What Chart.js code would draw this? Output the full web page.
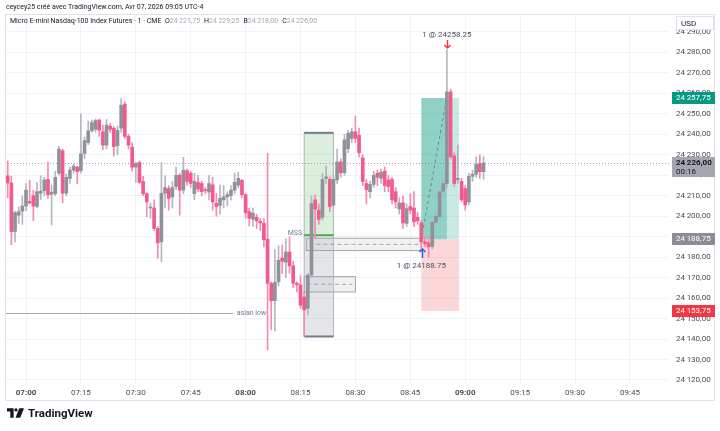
<!DOCTYPE html>
<html>
<head>
<meta charset="utf-8">
<script src="https://cdn.jsdelivr.net/npm/chart.js@4.4.1/dist/chart.umd.min.js"></script>
<style>
  body { margin: 0; background: #fff; font-family: Roboto, "Liberation Sans", sans-serif; }
  #wrap { position: relative; width: 720px; height: 431px; overflow: hidden; }
  #chart { position: absolute; left: 0; top: 0; }
  .txt { position: absolute; white-space: nowrap; color: #131722; }
  #h1 { left: 6px; top: 3px; font-size: 7px; }
  #h2 { left: 10px; top: 17px; font-size: 7px; }
  #h2 .v { color: #a3a6af; margin-right: 4px; }
  #logo { left: 7px; top: 406px; font-size: 11.5px; font-weight: bold; display: flex; align-items: center; }
  #logo svg { margin-right: 4px; }
</style>
</head>
<body>
<div id="wrap">
  <canvas id="chart" width="720" height="431"></canvas>
  <div class="txt" id="h1">ceycey25 créé avec TradingView.com, Avr 07, 2026 09:05 UTC-4</div>
  <div class="txt" id="h2"></div>
  <div class="txt" id="logo">
    <svg width="17" height="10" viewBox="0 0 36 20"><path d="M0 0h14v20H7V7H0z" fill="#131722"/><circle cx="19" cy="3.5" r="3.5" fill="#131722"/><path d="M26 0h10l-8 20H18z" fill="#131722"/></svg>TradingView
  </div>
</div>
<script>
// 1-minute bars, first bar 06:55 (minutes counted from 07:00)
const firstBarMin = -5;
const opens = [24219.75,24216.25,24192.5,24200.5,24202.5,24205,24207.25,24210,24204.75,24211.25,
  24212.5,24218,24210.75,24211,24221,24232,24211.25,24218.5,24222.5,24224,
  24222.25,24230.75,24236,24241.75,24242.5,24247,24241.25,24234.75,24244,24243,
  24234.5,24243,24254.75,24239,24233.75,24224,24226.25,24217,24211,24204,
  24204,24194,24187.5,24211.25,24213.5,24209.5,24214.5,24220,24212.75,24222.25,
  24221,24211,24216.5,24216,24213,24211.75,24215.25,24206.25,24205.25,24208,
  24209.5,24210,24212.75,24215.25,24217.5,24210.5,24202.25,24198.5,24199.5,24197.5,
  24196.5,24188.75,24167.25,24158.75,24168,24179.5,24177.5,24182.5,24175.75,24167.25,
  24166.5,24160.5,24155,24171.25,24208,24203,24199.5,24218.5,24218,24205.5,
  24217.75,24226.5,24221.25,24233,24238,24241.25,24239.5,24228.5,24216,24212,
  24215.5,24221,24218.5,24222,24217.75,24218,24212,24203.5,24206.5,24196.5,
  24204.75,24204,24199.5,24196.75,24187.5,24187,24185.25,24197,24199.75,24212.25,
  24216,24260.75,24229.5,24217.75,24217,24213.5,24207,24219.5,24220.5,24225.75,
  24221.75];
const highs = [24227,24219.5,24202.5,24204.5,24210,24216,24217.5,24212.75,24216.5,24219.75,
  24219,24226.5,24215.25,24222,24234.25,24232.75,24220.75,24224,24225.5,24224.5,
  24250,24238.75,24246.5,24247,24247.5,24247.5,24244.5,24247.25,24245.5,24243.75,
  24244,24257.5,24256,24240,24236,24226.5,24227,24219.5,24211.5,24206.5,
  24208,24195,24226.25,24219.75,24215,24217,24224,24221,24228.75,24223,
  24222,24221,24220,24217,24214,24220,24219,24211.25,24215.25,24215,
  24212,24215,24221,24221.5,24218,24211,24204,24204,24201,24199,
  24199,24230.75,24168,24183.75,24185.5,24186,24189,24190,24178,24168,
  24171,24163,24172,24210,24210.5,24206,24221,24224.5,24219.25,24220,
  24232.75,24228,24240,24242,24243,24249,24243,24230,24218,24217,
  24222,24222.5,24223,24224,24220,24219,24214,24209,24210,24206,
  24211,24212,24202,24198,24190,24190,24198,24201,24213,24217.5,
  24281.25,24262,24231,24234.75,24218.5,24215,24221,24222.5,24229,24230,
  24229.25];
const lows = [24209,24186,24187.5,24196.5,24196,24202.75,24206,24197.75,24204,24208,
  24210,24208.75,24195.75,24210,24220,24206.5,24210,24216,24221,24216,
  24221,24228,24235,24241,24241,24239,24232.5,24233,24241,24229.5,
  24230,24241,24238,24232.75,24222,24216.5,24216,24210,24199.75,24199,
  24193,24179.5,24177.75,24204,24203,24204,24213,24200.5,24211,24215,
  24214,24208,24212,24210,24211,24208,24203,24200,24201,24204,
  24205,24208,24211,24214,24209,24199,24195.25,24195,24194,24193,
  24185,24134.75,24144.5,24144,24166,24172,24170,24172,24165,24163,
  24155,24141.25,24151.75,24170,24189.25,24196,24198,24216,24202.25,24204,
  24216,24219,24220,24231,24236,24236,24229,24215,24206,24209,
  24214,24215,24216,24212,24212,24206,24204,24201,24194,24195,
  24201,24195,24196,24183,24185,24180,24184,24196,24198,24210,
  24214,24228,24214.5,24216,24207,24203,24205.5,24217,24219,24218.5,
  24218];
const closes = [24216.25,24192.5,24201.75,24202.25,24205,24212.75,24206.5,24205,24212,24212.25,
  24217.75,24210.5,24211.75,24219,24232.75,24211.25,24219,24222.5,24224.5,24221.75,
  24230.5,24237,24241.75,24245.75,24246.75,24242,24234.75,24244.5,24242.5,24234,
  24242,24254.25,24239,24234.75,24224,24225.75,24216.5,24211,24207,24204.5,
  24194,24187,24211.25,24214,24208.75,24214,24220,24212.75,24222.5,24217,
  24216,24217,24213.25,24212,24212.5,24216,24207,24204.75,24208.75,24209.5,
  24210.5,24212.75,24216.5,24218.5,24210.5,24201.75,24199,24201.5,24197.75,24196.75,
  24188.5,24167.25,24158.75,24167.75,24178.5,24178,24182.5,24175.75,24167.25,24166.5,
  24156.5,24154.25,24171.25,24206.25,24203.5,24198.5,24218,24219.25,24204.75,24218,
  24226.5,24221.25,24237.25,24240.5,24241.25,24238,24231,24217,24213,24215.5,
  24220,24219,24221.5,24215,24214.5,24208,24207,24206.5,24196.75,24203.75,
  24203,24197.25,24197.75,24187.5,24186.5,24185,24197,24200,24212,24216,
  24260.75,24229,24216,24218.5,24208,24205.5,24219.5,24220.5,24225.5,24221.75,
  24226];

const timeTicks = [0, 15, 30, 45, 60, 75, 90, 105, 120, 135, 150, 165];
const timeLabels = ['07:00','07:15','07:30','07:45','08:00','08:15','08:30','08:45','09:00','09:15','09:30','09:45'];
const priceTicks = [24120,24130,24140,24150,24160,24170,24180,24190,24200,24210,24220,24230,24240,24250,24260,24270,24280,24290];

// trade / drawings
const entryPrice = 24188.75, exitPrice = 24258.25;
const takeProfit = 24257.75, stopLoss = 24153.75, lastPrice = 24226;

const upBody = '#8f929b', downBody = '#f05a8c';
const upWick = '#b4b6bd', downWick = '#f48aad';

function fmt(v) {
  const s = v.toFixed(2).split('.');
  return s[0].slice(0, 2) + '\u2009' + s[0].slice(2) + ',' + s[1];
}

const n = opens.length;
document.getElementById('h2').innerHTML =
  'Micro E-mini Nasdaq-100 Index Futures · 1 · CME&nbsp;&nbsp;' +
  'O<span class="v">' + fmt(opens[n-1]) + '</span>H<span class="v">' + fmt(highs[n-1]) +
  '</span>B<span class="v">' + fmt(lows[n-1]) + '</span>C<span class="v">' + fmt(closes[n-1]) + '</span>';

const wickData = [], bodyData = [], wickCol = [], bodyCol = [];
for (let i = 0; i < n; i++) {
  const up = closes[i] >= opens[i];
  wickData.push({ x: firstBarMin + i, y: [lows[i], highs[i]] });
  bodyData.push({ x: firstBarMin + i, y: [opens[i], closes[i]] });
  wickCol.push(up ? upWick : downWick);
  bodyCol.push(up ? upBody : downBody);
}

const drawings = {
  id: 'drawings',
  beforeDatasetsDraw(chart) {
    const ctx = chart.ctx, a = chart.chartArea;
    const X = t => chart.scales.x.getPixelForValue(t);
    const Y = p => chart.scales.y.getPixelForValue(p);
    ctx.save();
    ctx.beginPath(); ctx.rect(a.left, a.top, a.right - a.left, a.bottom - a.top); ctx.clip();

    // last price dotted line
    ctx.strokeStyle = '#a3a6af'; ctx.lineWidth = 1; ctx.setLineDash([1, 2]);
    ctx.beginPath(); ctx.moveTo(a.left, Math.round(Y(lastPrice)) + 0.5); ctx.lineTo(a.right, Math.round(Y(lastPrice)) + 0.5); ctx.stroke();
    ctx.setLineDash([]);

    // long position tool
    ctx.fillStyle = 'rgba(8,153,129,0.45)';
    ctx.fillRect(X(108), Y(takeProfit), X(115) - X(108), Y(entryPrice) - Y(takeProfit));
    ctx.fillStyle = 'rgba(8,153,129,0.22)';
    ctx.fillRect(X(115), Y(takeProfit), X(118.3) - X(115), Y(entryPrice) - Y(takeProfit));
    ctx.fillStyle = 'rgba(242,54,69,0.2)';
    ctx.fillRect(X(108), Y(entryPrice), X(118.3) - X(108), Y(stopLoss) - Y(entryPrice));

    // range boxes
    ctx.fillStyle = 'rgba(76,175,80,0.2)';
    ctx.fillRect(X(76), Y(24240.75), X(84) - X(76), Y(24190.75) - Y(24240.75));
    ctx.fillStyle = 'rgba(120,123,134,0.2)';
    ctx.fillRect(X(76), Y(24190.75), X(84) - X(76), Y(24141.25) - Y(24190.75));
    ctx.strokeStyle = 'rgba(120,123,134,0.5)'; ctx.lineWidth = 1;
    ctx.strokeRect(X(76), Y(24240.75), X(84) - X(76), Y(24141.25) - Y(24240.75));
    ctx.lineWidth = 2;
    ctx.strokeStyle = '#787b86';
    ctx.beginPath(); ctx.moveTo(X(76), Y(24240.75)); ctx.lineTo(X(84), Y(24240.75)); ctx.stroke();
    ctx.beginPath(); ctx.moveTo(X(76), Y(24141.25)); ctx.lineTo(X(84), Y(24141.25)); ctx.stroke();
    ctx.strokeStyle = '#4caf50';
    ctx.beginPath(); ctx.moveTo(X(76), Y(24190.75)); ctx.lineTo(X(84), Y(24190.75)); ctx.stroke();

    // gap rectangles with dashed mid line
    [[76.6, 108, 24189.25, 24183.25], [76, 90, 24170.5, 24163]].forEach(r => {
      ctx.fillStyle = 'rgba(190,192,198,0.22)';
      ctx.fillRect(X(r[0]), Y(r[2]), X(r[1]) - X(r[0]), Y(r[3]) - Y(r[2]));
      ctx.strokeStyle = '#a3a6af'; ctx.lineWidth = 1;
      ctx.strokeRect(X(r[0]), Y(r[2]), X(r[1]) - X(r[0]), Y(r[3]) - Y(r[2]));
      ctx.setLineDash([4, 3]);
      const m = Y((r[2] + r[3]) / 2);
      ctx.beginPath(); ctx.moveTo(X(r[0]) + 3, m); ctx.lineTo(X(r[1]) - 3, m); ctx.stroke();
      ctx.setLineDash([]);
    });

    // asian low
    ctx.strokeStyle = '#a3a6af'; ctx.lineWidth = 1;
    ctx.beginPath(); ctx.moveTo(a.left, Math.round(Y(24152.75)) + 0.5); ctx.lineTo(X(56.5), Math.round(Y(24152.75)) + 0.5); ctx.stroke();

    // entry -> exit dashed line
    ctx.strokeStyle = '#787b86'; ctx.setLineDash([3, 3]);
    ctx.beginPath(); ctx.moveTo(X(108), Y(entryPrice)); ctx.lineTo(X(115), Y(exitPrice)); ctx.stroke();
    ctx.restore();
  },
  afterDraw(chart) {
    const ctx = chart.ctx, a = chart.chartArea;
    const X = t => chart.scales.x.getPixelForValue(t);
    const Y = p => chart.scales.y.getPixelForValue(p);
    ctx.save();
    ctx.font = '7px Roboto, sans-serif'; ctx.textBaseline = 'middle';
    ctx.fillStyle = '#787b86';
    ctx.textAlign = 'left'; ctx.fillText('asian low', X(56.5) + 4, Y(24152.75));
    ctx.textAlign = 'right'; ctx.fillText('MSS', X(76) - 2, Y(24190.75) - 2);

    // executions
    ctx.font = '8px Roboto, sans-serif'; ctx.fillStyle = '#4a4d57'; ctx.textAlign = 'center';
    ctx.fillText('1 @ ' + entryPrice.toFixed(2), X(108), Y(entryPrice) + 27);
    ctx.fillText('1 @ ' + exitPrice.toFixed(2), X(115), 35);
    const arrow = (x, y0, y1, col) => {
      const d = y1 < y0 ? -1 : 1;
      ctx.strokeStyle = col; ctx.fillStyle = col; ctx.lineWidth = 1.5;
      ctx.beginPath(); ctx.moveTo(x, y0); ctx.lineTo(x, y1); ctx.stroke();
      ctx.beginPath(); ctx.moveTo(x - 3, y1 - 3 * d); ctx.lineTo(x, y1); ctx.lineTo(x + 3, y1 - 3 * d); ctx.stroke();
    };
    arrow(Math.round(X(108.3)) + 0.5, 258, 249, '#2962ff');
    arrow(Math.round(X(115)) + 0.5, 40, 48, '#f23645');

    // border
    ctx.strokeStyle = '#e0e3eb'; ctx.lineWidth = 1;
    ctx.strokeRect(5.5, 14.5, 709, 386);

    // price axis labels
    const tag = (p, bg, fg, sub) => {
      const y = Math.round(Y(p));
      const h = sub ? 20 : 12;
      ctx.fillStyle = bg; ctx.fillRect(672, y - 6, 43, h);
      ctx.fillStyle = fg; ctx.textAlign = 'left'; ctx.font = (sub ? 'bold ' : '') + '8px Roboto, sans-serif';
      ctx.fillText(fmt(p), 676, y);
      if (sub) { ctx.font = '8px Roboto, sans-serif'; ctx.fillText(sub, 676, y + 9); }
    };
    tag(takeProfit, '#089981', '#fff');
    tag(lastPrice, '#a3a6af', '#131722', '00:16');
    tag(entryPrice, '#8a8d96', '#fff');
    tag(stopLoss, '#f23645', '#fff');

    // currency box
    ctx.fillStyle = '#fff'; ctx.fillRect(676, 16, 38, 14);
    ctx.strokeStyle = '#e0e3eb'; ctx.strokeRect(676.5, 16.5, 37, 13);
    ctx.fillStyle = '#131722'; ctx.font = '8px Roboto, sans-serif';
    ctx.fillText('USD', 681, 23.5);
    ctx.restore();
  }
};

new Chart(document.getElementById('chart'), {
  type: 'bar',
  data: {
    datasets: [
      { data: bodyData, backgroundColor: bodyCol, barThickness: 3, minBarLength: 1, grouped: false, order: 1 },
      { data: wickData, backgroundColor: wickCol, barThickness: 1, grouped: false, order: 2 }
    ]
  },
  options: {
    responsive: false,
    animation: false,
    devicePixelRatio: 1,
    layout: { padding: { left: 5, right: 5, top: 14, bottom: 27 } },
    plugins: { legend: { display: false }, tooltip: { enabled: false } },
    scales: {
      x: {
        type: 'linear',
        offset: false,
        min: -5.74, max: 175.68,
        afterFit: s => { s.height = 20; },
        afterBuildTicks: s => { s.ticks = timeTicks.map(v => ({ value: v })); },
        grid: { color: '#f0f3fa', drawTicks: false, offset: false },
        border: { display: false },
        ticks: {
          padding: 4, maxRotation: 0, autoSkip: false, color: '#4a4d57',
          font: c => ({ family: 'Roboto', size: 8, weight: c.tick && c.tick.value % 60 === 0 ? 'bold' : 'normal' }),
          callback: v => timeLabels[timeTicks.indexOf(v)]
        }
      },
      y: {
        position: 'right',
        min: 24118.04, max: 24298.79,
        afterFit: s => { s.width = 46; },
        afterBuildTicks: s => { s.ticks = priceTicks.map(v => ({ value: v })); },
        grid: { color: '#f0f3fa', drawTicks: false },
        border: { display: false },
        ticks: { padding: 7, color: '#4a4d57', font: { family: 'Roboto', size: 8 }, callback: v => fmt(v) }
      }
    }
  },
  plugins: [drawings]
});
</script>
</body>
</html>
